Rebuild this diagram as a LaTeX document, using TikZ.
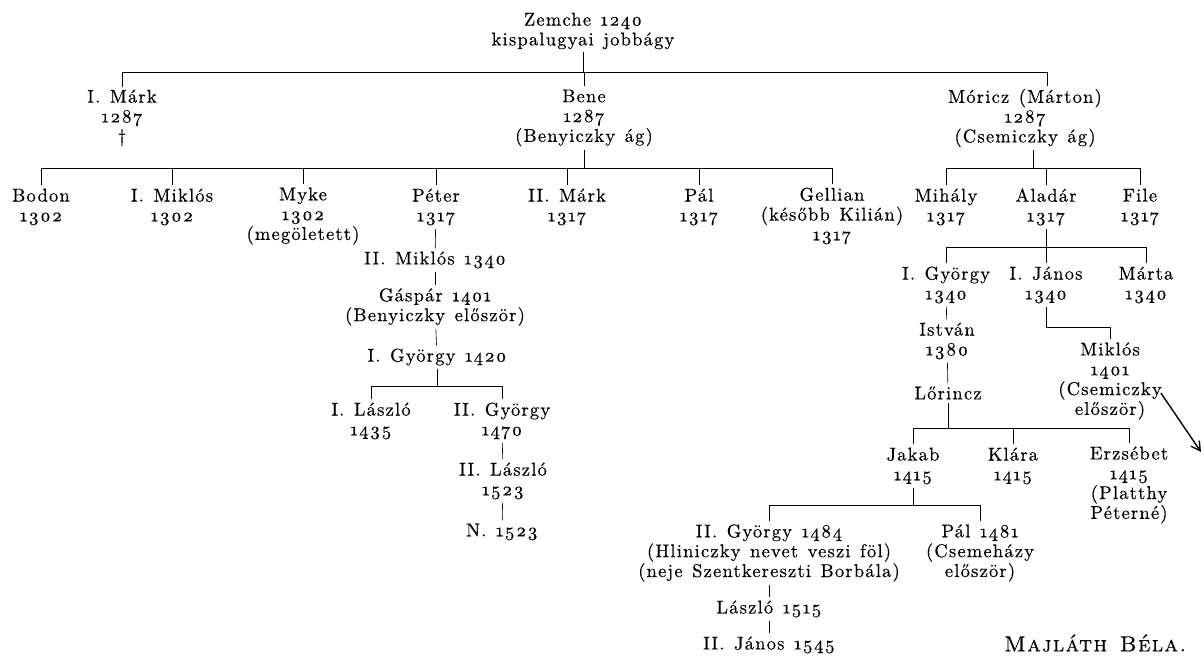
\documentclass[tikz,border=0pt]{standalone}
\usepackage{fontspec}
\setmainfont{lmroman10-regular}[Extension=.otf, Numbers=OldStyle,
  SmallCapsFont=lmromancaps10-regular, WordSpace=1.3, LetterSpace=6.5,
  FakeBold=0.4]
\usetikzlibrary{arrows.meta}
\tikzset{
  person/.style={align=center, inner xsep=1pt, inner ysep=3pt,
    font=\fontsize{18.5}{19.8}\selectfont},
  tree/.style={line width=0.6pt},
}

\begin{document}
\begin{tikzpicture}[x=1pt, y=-1pt]
\useasboundingbox (0,0) rectangle (1204,658);

% first ones
\node[person] (zemche) at (583,31) {Zemche 1240\\kispalugyai jobbágy};
\node[person] (markI) at (122,118) {I. Márk\\1287\\†};
\node[person] (bene) at (584,118) {Bene\\1287\\(Benyiczky ág)};
\node[person] (moricz) at (1025,118) {Móricz (Márton)\\1287\\(Csemiczky ág)};

\coordinate (bus0) at (0,72);
\draw[tree] (zemche.south) -- (zemche.south |- bus0);
\draw[tree] (markI.north |- bus0) -- ([xshift=22pt]moricz.north |- bus0);
\foreach \n in {markI, bene}{
    \draw[tree] (\n.north) -- (\n.north |- bus0);
  }
\draw[tree] ([xshift=22pt]moricz.north) -- ([xshift=22pt]moricz.north |- bus0);

% Benyiczky branch
\node[person] (bodon) at (41,207) {Bodon\\1302};
\node[person] (miklosI) at (172,207) {I. Miklós\\1302};
\node[person] (myke) at (303,216) {Myke\\1302\\(megöletett)};
\node[person] (peter) at (436,207) {Péter\\1317};
\node[person] (markII) at (567,207) {II. Márk\\1317};
\node[person] (palI) at (699,207) {Pál\\1317};
\node[person] (gellian) at (832,216) {Gellian\\(később Kilián)\\1317};

\coordinate (bus1) at (0,168);
\draw[tree] (bene.south) -- (bene.south |- bus1);
\draw[tree] (bodon.north |- bus1) -- (gellian.north |- bus1);
\foreach \n in {bodon, miklosI, myke, peter, markII, palI, gellian}{
    \draw[tree] (\n.north) -- (\n.north |- bus1);
  }

\node[person] (miklosII) at (435,260) {II. Miklós 1340};
\node[person] (gaspar) at (435,307) {Gáspár 1401\\(Benyiczky először)};
\node[person] (gyorgyI) at (437,357) {I. György 1420};
\node[person] (laszloI) at (371,421) {I. László\\1435};
\node[person] (gyorgyII) at (502,421) {II. György\\1470};
\node[person] (laszloII) at (503,481) {II. László\\1523};
\node[person] (nn) at (502,532) {N. 1523};

\draw[tree] (peter) -- (miklosII);
\draw[tree] (miklosII) -- (gaspar);
\draw[tree] (gaspar) -- (gyorgyI);
\coordinate (bus2) at (0,386);
\draw[tree] (gyorgyI.south) -- (gyorgyI.south |- bus2);
\draw[tree] (laszloI.north |- bus2) -- (gyorgyII.north |- bus2);
\foreach \n in {laszloI, gyorgyII}{
    \draw[tree] (\n.north) -- (\n.north |- bus2);
  }
\draw[tree] (gyorgyII) -- (laszloII);
\draw[tree] (laszloII) -- (nn);

% Csemiczky branch
\node[person] (mihaly) at (946,207) {Mihály\\1317};
\node[person] (aladar) at (1046,207) {Aladár\\1317};
\node[person] (file) at (1140,207) {File\\1317};

\draw[tree] ([xshift=8pt]moricz.south) -- ([xshift=8pt]moricz.south |- bus1);
\draw[tree] (mihaly.north |- bus1) -- (file.north |- bus1);
\foreach \n in {mihaly, aladar, file}{
    \draw[tree] (\n.north) -- (\n.north |- bus1);
  }

\node[person] (gyorgyIb) at (946,285) {I. György\\1340};
\node[person] (janosI) at (1046,285) {I. János\\1340};
\node[person] (marta) at (1146,285) {Márta\\1340};

\coordinate (bus3) at (0,247);
\draw[tree] (aladar.south) -- (aladar.south |- bus3);
\draw[tree] (gyorgyIb.north |- bus3) -- (marta.north |- bus3);
\foreach \n in {gyorgyIb, janosI, marta}{
    \draw[tree] (\n.north) -- (\n.north |- bus3);
  }

\node[person] (istvan) at (947,341) {István\\1380};
\node[person] (lorincz) at (948,393) {Lőrincz};
\node[person] (miklosIII) at (1110,381) {Miklós\\1401\\(Csemiczky\\először)};

\draw[tree] (gyorgyIb) -- (istvan);
\draw[tree] (istvan) -- (lorincz);
\draw[tree] (janosI.south) |- (miklosIII.north |- 0,327) -- (miklosIII.north);

\node[person] (jakab) at (913,466) {Jakab\\1415};
\node[person] (klara) at (1013,466) {Klára\\1415};
\node[person] (erzsebet) at (1129,485) {Erzsébet\\1415\\(Platthy\\Péterné)};

\coordinate (bus4) at (0,428);
\draw[tree] (lorincz.south) -- (lorincz.south |- bus4);
\draw[tree] (jakab.north |- bus4) -- (erzsebet.north |- bus4);
\foreach \n in {jakab, klara, erzsebet}{
    \draw[tree] (\n.north) -- (\n.north |- bus4);
  }

\node[person] (gyorgyIII) at (769,553) {II. György 1484\\(Hliniczky nevet veszi föl)\\(neje Szentkereszti Borbála)};
\node[person] (palII) at (980,553) {Pál 1481\\(Csemeházy\\először)};
\node[person] (laszloIII) at (769,609) {László 1515};
\node[person] (janosII) at (769,645) {II. János 1545};

\coordinate (bus5) at (0,505);
\draw[tree] (jakab.south) -- (jakab.south |- bus5);
\draw[tree] (gyorgyIII.north |- bus5) -- (palII.north |- bus5);
\foreach \n in {gyorgyIII, palII}{
    \draw[tree] (\n.north) -- (\n.north |- bus5);
  }
\draw[tree] (gyorgyIII) -- (laszloIII);
\draw[tree] (laszloIII) -- (janosII);

% pencil arrow and signature
\coordinate (arrowend) at (1201,452);
\draw[line width=1.4pt, -{Straight Barb[length=9pt, width=10pt]}]
  ([shift={(-2pt,-12pt)}]miklosIII.east) -- (arrowend);
\node[font=\fontsize{22}{24}\selectfont, inner sep=0pt] (signature) at (1096,643) {\textsc{Majláth Béla.}};
\end{tikzpicture}
\end{document}
